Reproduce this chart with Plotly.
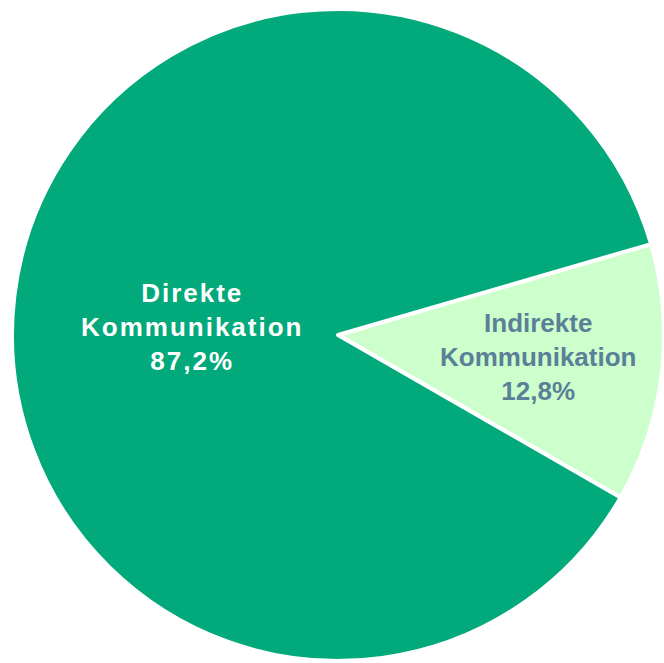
import plotly.graph_objects as go

labels = ["Indirekte Kommunikation", "Direkte Kommunikation"]
label_lines = [["Indirekte", "Kommunikation"], ["Direkte", "Kommunikation"]]
values = [12.8, 87.2]
value_labels = ["12,8%", "87,2%"]
colors = ["#ccffcc", "#02a97a"]
text_colors = ["#5b7f97", "#ffffff"]

W, H = 664, 663

def px(x):
    return x / W

def py(y):
    return 1 - y / H

cx, cy, r = 339, 335, 327

fig = go.Figure(go.Pie(
    labels=labels,
    values=values,
    textinfo="none",
    marker=dict(colors=colors, line=dict(color="#ffffff", width=4)),
    sort=False,
    direction="clockwise",
    rotation=73.8,
    showlegend=False,
    hoverinfo="skip",
    domain=dict(x=[px(cx - r), min(1.0, px(cx + r))], y=[max(0.0, py(cy + r)), py(cy - r)]),
))

# label anchor positions (page pixels)
label_pos = [(538, 357), (192, 327)]
spacing = ["0px", "2px"]

for i in range(len(values)):
    sp = spacing[i]
    lines = label_lines[i] + [value_labels[i]]
    txt = "<br>".join("<span style='letter-spacing:%s'>%s</span>" % (sp, ln) for ln in lines)
    fig.add_annotation(
        x=px(label_pos[i][0]), y=py(label_pos[i][1]),
        xref="paper", yref="paper",
        text="<b>%s</b>" % txt,
        showarrow=False,
        font=dict(family="Liberation Sans", size=26, color=text_colors[i]),
        xanchor="center", yanchor="middle", align="center",
    )

fig.update_layout(
    width=W, height=H,
    margin=dict(l=0, r=0, t=0, b=0),
    paper_bgcolor="#ffffff",
    plot_bgcolor="#ffffff",
)

fig.write_html(
    "out.html",
    config={"displayModeBar": False},
    post_script="document.body.style.margin='0';document.body.style.overflow='hidden';",
)
